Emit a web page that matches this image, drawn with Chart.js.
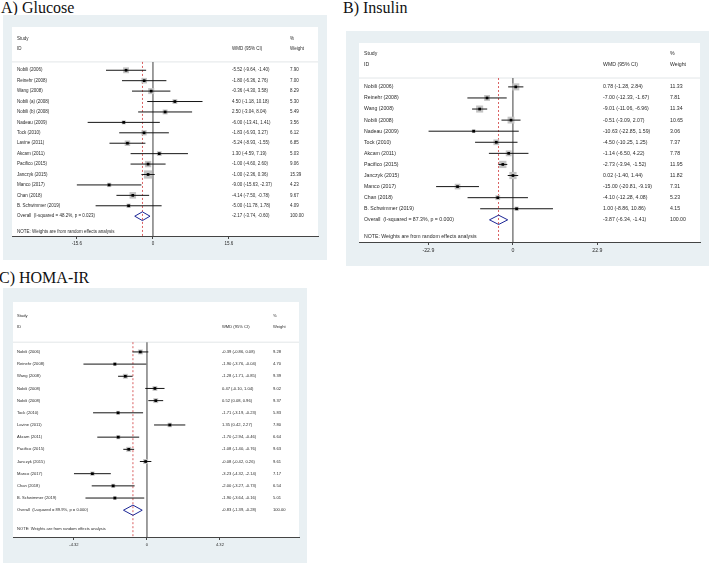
<!DOCTYPE html>
<html>
<head>
<meta charset="utf-8">
<script src="https://cdn.jsdelivr.net/npm/chart.js@4.4.1/dist/chart.umd.min.js"></script>
<style>
  body { margin: 0; width: 709px; height: 564px; background: #fff; position: relative; overflow: hidden; }
  .title { position: absolute; font-family: "Liberation Serif", "Times New Roman", serif; font-size: 16px; line-height: 16px; color: #111; white-space: nowrap; }
  canvas { position: absolute; }
</style>
</head>
<body>
<div class="title" style="left:1px;top:0px">A) Glucose</div>
<div class="title" style="left:343px;top:0px">B) Insulin</div>
<div class="title" style="left:-1px;top:270px">C) HOMA-IR</div>

<canvas id="glucose" width="324" height="245" style="left:3px;top:15px"></canvas>
<canvas id="insulin" width="363" height="235" style="left:346px;top:31px"></canvas>
<canvas id="homa" width="304" height="275" style="left:3px;top:288px"></canvas>

<script>
// ---- A) Glucose
const glucoseStudies = ['Nobili (2006)', 'Reinehr (2008)', 'Wang (2008)', 'Nobili (a) (2008)', 'Nobili (b) (2008)', 'Nadeau (2009)', 'Tock (2010)', 'Lavine (2011)', 'Akcam (2011)', 'Pacifico (2015)', 'Janczyk (2015)', 'Manco (2017)', 'Chan (2018)', 'B. Schwimmer (2019)']
const glucoseEst = [-5.52, -1.80, -0.36, 4.50, 2.50, -6.00, -1.83, -5.24, 1.30, -1.00, -1.00, -9.00, -4.14, -5.00]
const glucoseLo = [-9.64, -6.36, -4.30, -1.18, -3.04, -13.41, -6.93, -8.93, -4.59, -4.60, -2.36, -15.63, -7.50, -11.78]
const glucoseHi = [-1.40, 2.76, 3.58, 10.18, 8.04, 1.41, 3.27, -1.55, 7.19, 2.60, 0.36, -2.37, -0.78, 1.78]
const glucoseWeight = [7.90, 7.00, 8.29, 5.30, 5.49, 3.56, 6.12, 6.85, 5.03, 9.06, 15.39, 4.23, 9.67, 4.09]
const glucoseOverall = [-2.17, -3.74, -0.60]
const glucoseHetero = 'Overall  (I-squared = 48.2%, p = 0.023)'
const glucoseTicks = [-15.6, 0, 15.6]

// ---- B) Insulin
const insulinStudies = ['Nobili (2006)', 'Reinehr (2008)', 'Wang (2008)', 'Nobili (2008)', 'Nadeau (2009)', 'Tock (2010)', 'Akcam (2011)', 'Pacifico (2015)', 'Janczyk (2015)', 'Manco (2017)', 'Chan (2018)', 'B. Schwimmer (2019)']
const insulinEst = [0.78, -7.00, -9.01, -0.51, -10.63, -4.50, -1.14, -2.73, 0.02, -15.00, -4.10, 1.00]
const insulinLo = [-1.28, -12.33, -11.06, -3.09, -22.85, -10.25, -6.50, -3.94, -1.40, -20.81, -12.28, -8.86]
const insulinHi = [2.84, -1.67, -6.96, 2.07, 1.59, 1.25, 4.22, -1.52, 1.44, -9.19, 4.08, 10.86]
const insulinWeight = [11.33, 7.81, 11.34, 10.65, 3.06, 7.37, 7.78, 11.95, 11.82, 7.31, 5.23, 4.15]
const insulinOverall = [-3.87, -6.34, -1.41]
const insulinHetero = 'Overall  (I-squared = 87.3%, p = 0.000)'
const insulinTicks = [-22.9, 0, 22.9]

// ---- C) HOMA-IR
const homaStudies = ['Nobili (2006)', 'Reinehr (2008)', 'Wang (2008)', 'Nobili (2008)', 'Nobili (2008)', 'Tock (2010)', 'Lavine (2011)', 'Akcam (2011)', 'Pacifico (2015)', 'Janczyk (2015)', 'Manco (2017)', 'Chan (2018)', 'B. Schwimmer (2019)']
const homaEst = [-0.39, -1.90, -1.28, 0.47, 0.52, -1.71, 1.35, -1.70, -1.08, -0.08, -3.23, -2.00, -1.90]
const homaLo = [-0.86, -3.76, -1.71, -0.10, 0.08, -3.19, 0.42, -2.94, -1.40, -0.42, -4.32, -3.27, -3.64]
const homaHi = [0.08, -0.04, -0.85, 1.04, 0.96, -0.23, 2.27, -0.46, -0.76, 0.26, -2.14, -0.73, -0.16]
const homaWeight = [9.28, 4.70, 9.39, 9.02, 9.37, 5.83, 7.80, 6.64, 9.63, 9.61, 7.17, 6.54, 5.01]
const homaOverall = [-0.83, -1.39, -0.28]
const homaHetero = 'Overall  (I-squared = 89.9%, p = 0.000)'
const homaTicks = [-4.32, 0, 4.32]

const fmt = v => v.toFixed(2)

// background, header line and text columns
const forestPlugin = {
    id: 'forest',
    beforeDraw(chart) {
        let {ctx, chartArea: a, width, height} = chart
        ctx.save()
        ctx.fillStyle = '#e9f0f3'
        ctx.fillRect(0, 0, width, height)
        ctx.fillStyle = '#ffffff'
        ctx.fillRect(a.left, a.top, a.right - a.left, a.bottom - a.top)
        ctx.restore()
    },
    beforeDatasetsDraw(chart, args, o) {
        let {ctx, chartArea: a} = chart
        let y = chart.scales.y.getPixelForValue(-0.8)
        ctx.save()
        ctx.strokeStyle = '#e2e6e8'
        ctx.lineWidth = 1
        ctx.beginPath()
        ctx.moveTo(a.left, y)
        ctx.lineTo(a.right, y)
        ctx.stroke()
        ctx.restore()
    },
    afterDatasetsDraw(chart, args, o) {
        let {ctx, chartArea: a} = chart
        let ys = chart.scales.y
        let n = o.studies.length
        ctx.save()
        ctx.font = o.font + 'px "Liberation Sans", Arial, sans-serif'
        ctx.fillStyle = '#2a2a2a'
        ctx.textBaseline = 'middle'
        let c1 = a.left + o.cols[0], c2 = a.left + o.cols[1], c3 = a.left + o.cols[2]
        ctx.fillText('Study', c1, ys.getPixelForValue(-3))
        ctx.fillText('ID', c1, ys.getPixelForValue(-2.05))
        ctx.fillText('WMD (95% CI)', c2, ys.getPixelForValue(-2.05))
        ctx.fillText('%', c3, ys.getPixelForValue(-3))
        ctx.fillText('Weight', c3, ys.getPixelForValue(-2.05))
        o.studies.forEach((s, i) => {
            let y = ys.getPixelForValue(i)
            ctx.fillText(s, c1, y)
            ctx.fillText(`${fmt(o.est[i])} (${fmt(o.lo[i])}, ${fmt(o.hi[i])})`, c2, y)
            ctx.fillText(fmt(o.weight[i]), c3, y)
        })
        let yo = ys.getPixelForValue(n)
        ctx.fillText(o.hetero, c1, yo)
        ctx.fillText(`${fmt(o.overall[0])} (${fmt(o.overall[1])}, ${fmt(o.overall[2])})`, c2, yo)
        ctx.fillText('100.00', c3, yo)
        ctx.fillText('NOTE: Weights are from random effects analysis', c1, ys.getPixelForValue(n + 1.5))
        ctx.restore()
    }
}

function forest(id, studies, est, lo, hi, weight, overall, hetero, ticks, lay) {
    let n = studies.length
    let ciData = []
    studies.forEach((s, i) => {
        ciData.push({x: lo[i], y: i}, {x: hi[i], y: i}, {x: null, y: null})
    })
    let pts = est.map((v, i) => ({x: v, y: i}))
    let diamond = [
        {x: overall[1], y: n}, {x: overall[0], y: n - 0.42},
        {x: overall[2], y: n}, {x: overall[0], y: n + 0.42}, {x: overall[1], y: n}
    ]
    let yTop = -0.8, yBottom = lay.ymax

    new Chart(document.getElementById(id), {
        type: 'scatter',
        data: {
            datasets: [
                {   // zero line
                    data: [{x: 0, y: yTop}, {x: 0, y: yBottom}],
                    showLine: true, borderColor: '#6b6b6b', borderWidth: 1.3, pointRadius: 0, order: 6
                },
                {   // overall effect, dashed
                    data: [{x: overall[0], y: yTop}, {x: overall[0], y: yBottom}],
                    showLine: true, borderColor: '#d0393b', borderWidth: 0.8, borderDash: [2, 2], pointRadius: 0, order: 5
                },
                {   // weight boxes
                    data: pts, pointStyle: 'rect',
                    pointRadius: weight.map(w => lay.box * Math.sqrt(w) / 1.414),
                    backgroundColor: '#c4c4c4', borderWidth: 0, order: 4
                },
                {   // confidence intervals
                    data: ciData, showLine: true, spanGaps: false,
                    borderColor: '#151515', borderWidth: 1, pointRadius: 0, order: 3
                },
                {   // point estimates
                    data: pts, pointStyle: 'rect', pointRadius: 1.9,
                    backgroundColor: '#000', borderWidth: 0, order: 2
                },
                {   // overall diamond
                    data: diamond, showLine: true, borderColor: '#1c2696', borderWidth: 1,
                    pointRadius: 0, fill: false, order: 1
                }
            ]
        },
        options: {
            responsive: false,
            animation: false,
            events: [],
            layout: {padding: lay.pad},
            plugins: {
                legend: {display: false},
                tooltip: {enabled: false},
                forest: {studies, est, lo, hi, weight, overall, hetero, cols: lay.cols, font: lay.font}
            },
            scales: {
                x: {
                    type: 'linear', min: lay.xmin, max: lay.xmax,
                    afterBuildTicks: sc => { sc.ticks = ticks.map(v => ({value: v})) },
                    afterFit: sc => { sc.height = 14 },
                    grid: {drawOnChartArea: false, drawTicks: true, tickLength: 3, color: '#444'},
                    border: {display: true, color: '#444', width: 1},
                    ticks: {
                        autoSkip: false, maxRotation: 0, padding: 2, color: '#2a2a2a',
                        font: {size: lay.font, family: '"Liberation Sans", Arial, sans-serif'},
                        callback: v => String(v)
                    }
                },
                y: {type: 'linear', reverse: true, min: lay.ymin, max: lay.ymax, display: false}
            }
        },
        plugins: [forestPlugin]
    })
}

forest('glucose', glucoseStudies, glucoseEst, glucoseLo, glucoseHi, glucoseWeight, glucoseOverall, glucoseHetero, glucoseTicks,
    {pad: {left: 9, right: 9, top: 12, bottom: 10}, xmin: -28.95, xmax: 33.9, ymin: -4.15, ymax: 15.9,
     cols: [5, 220, 278], font: 4.5, box: 2.1})

forest('insulin', insulinStudies, insulinEst, insulinLo, insulinHi, insulinWeight, insulinOverall, insulinHetero, insulinTicks,
    {pad: {left: 13, right: 9, top: 12, bottom: 10}, xmin: -41.7, xmax: 50.7, ymin: -3.96, ymax: 14,
     cols: [5, 244, 311], font: 5.2, box: 2.1})

forest('homa', homaStudies, homaEst, homaLo, homaHi, homaWeight, homaOverall, homaHetero, homaTicks,
    {pad: {left: 10, right: 8, top: 14, bottom: 12}, xmin: -7.93, xmax: 9.0, ymin: -4.1, ymax: 15.2,
     cols: [4, 209, 260], font: 4.1, box: 1.6})
</script>
</body>
</html>
